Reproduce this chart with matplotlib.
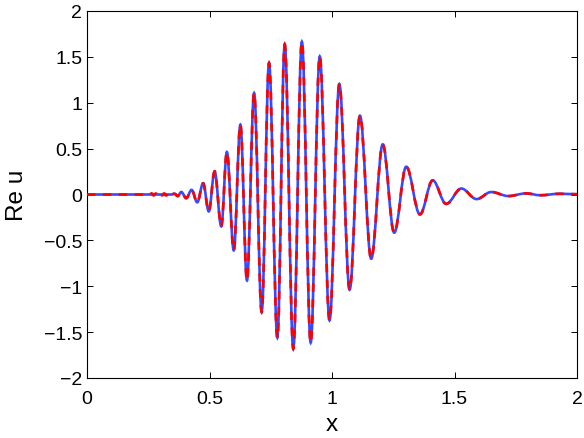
import matplotlib
matplotlib.use("Agg")
import matplotlib.pyplot as plt
from matplotlib.path import Path
from matplotlib.patches import PathPatch

plt.rcParams['font.family'] = ['Liberation Sans', 'DejaVu Sans']

# Local extrema of the wave packet (x, Re u)
main_x = [0.370, 0.385, 0.405, 0.427, 0.450, 0.474, 0.497, 0.521, 0.548, 0.571,
          0.599, 0.626, 0.653, 0.682, 0.713, 0.743, 0.777, 0.807, 0.842, 0.877,
          0.913, 0.950, 0.990, 1.030, 1.072, 1.114, 1.160, 1.207, 1.254, 1.303,
          1.359, 1.411, 1.466, 1.528, 1.590, 1.650, 1.720, 1.792, 1.850, 1.930, 2.000]
main_y = [-0.017, 0.027, -0.040, 0.050, -0.085, 0.122, -0.184, 0.252, -0.347, 0.463,
          -0.609, 0.761, -0.936, 1.106, -1.281, 1.433, -1.561, 1.636, -1.681, 1.665,
          -1.615, 1.505, -1.372, 1.204, -1.038, 0.859, -0.700, 0.546, -0.416, 0.303,
          -0.217, 0.154, -0.102, 0.065, -0.050, 0.027, -0.017, 0.012, -0.008, 0.008, 0.003]

# Leading part of the blue (solid) curve
blue_lead_x = [0.0, 0.345, 0.358]
blue_lead_y = [0.0, 0.0, 0.008]

# Leading part of the red (dashed) curve, with small numerical noise
red_lead_x = [0.0, 0.255, 0.264, 0.272, 0.281, 0.289, 0.298, 0.306, 0.315,
              0.323, 0.332, 0.340, 0.349, 0.358]
red_lead_y = [0.0, 0.0, 0.012, -0.010, 0.011, -0.012, 0.010, -0.009, 0.012,
              -0.011, 0.010, -0.012, 0.011, 0.006]

x_ticks = [0, 0.5, 1, 1.5, 2]
y_ticks = [-2, -1.5, -1, -0.5, 0, 0.5, 1, 1.5, 2]
x_tick_labels = ['0', '0.5', '1', '1.5', '2']
y_tick_labels = ['\u22122', '\u22121.5', '\u22121', '\u22120.5', '0', '0.5', '1', '1.5', '2']


def smooth_path(xs, ys, k=0.364):
    verts = [(xs[0], ys[0])]
    codes = [Path.MOVETO]
    for i in range(len(xs) - 1):
        d = (xs[i + 1] - xs[i]) * k
        verts += [(xs[i] + d, ys[i]), (xs[i + 1] - d, ys[i + 1]), (xs[i + 1], ys[i + 1])]
        codes += [Path.CURVE4] * 3
    return Path(verts, codes)


fig = plt.figure(figsize=(5.84, 4.39), dpi=100)
ax = fig.add_axes([87 / 584, 60 / 439, 490 / 584, 367 / 439])

blue_path = smooth_path(blue_lead_x + main_x, blue_lead_y + main_y)
red_path = smooth_path(red_lead_x + main_x, red_lead_y + main_y)

ax.add_patch(PathPatch(blue_path, facecolor='none', edgecolor='#3a48ff',
                       linewidth=1.9, transform=ax.transData, zorder=2))
ax.add_patch(PathPatch(red_path, facecolor='none', edgecolor='#ff0000',
                       linewidth=1.9, linestyle=(0, (3.2, 2.8)),
                       transform=ax.transData, zorder=3))

ax.set_xlim(0, 2)
ax.set_ylim(-2, 2)
ax.set_xticks(x_ticks)
ax.set_xticklabels(x_tick_labels)
ax.set_yticks(y_ticks)
ax.set_yticklabels(y_tick_labels)
ax.tick_params(direction='in', length=4.5, width=0.7, top=True, right=True,
               labelsize=14, colors='black')
ax.tick_params(axis='x', pad=8.5)
ax.tick_params(axis='y', pad=3.5)
for s in ax.spines.values():
    s.set_linewidth(0.8)

ax.set_xlabel('x', fontsize=17.5)
ax.set_ylabel('Re u', fontsize=17.5)
ax.xaxis.label.set_va('center')
ax.yaxis.label.set_va('center')
ax.xaxis.set_label_coords(0.5, (379 - 425) / 367)
ax.yaxis.set_label_coords((17 - 87) / 490, 0.5)

fig.savefig('out.png', dpi=100)
